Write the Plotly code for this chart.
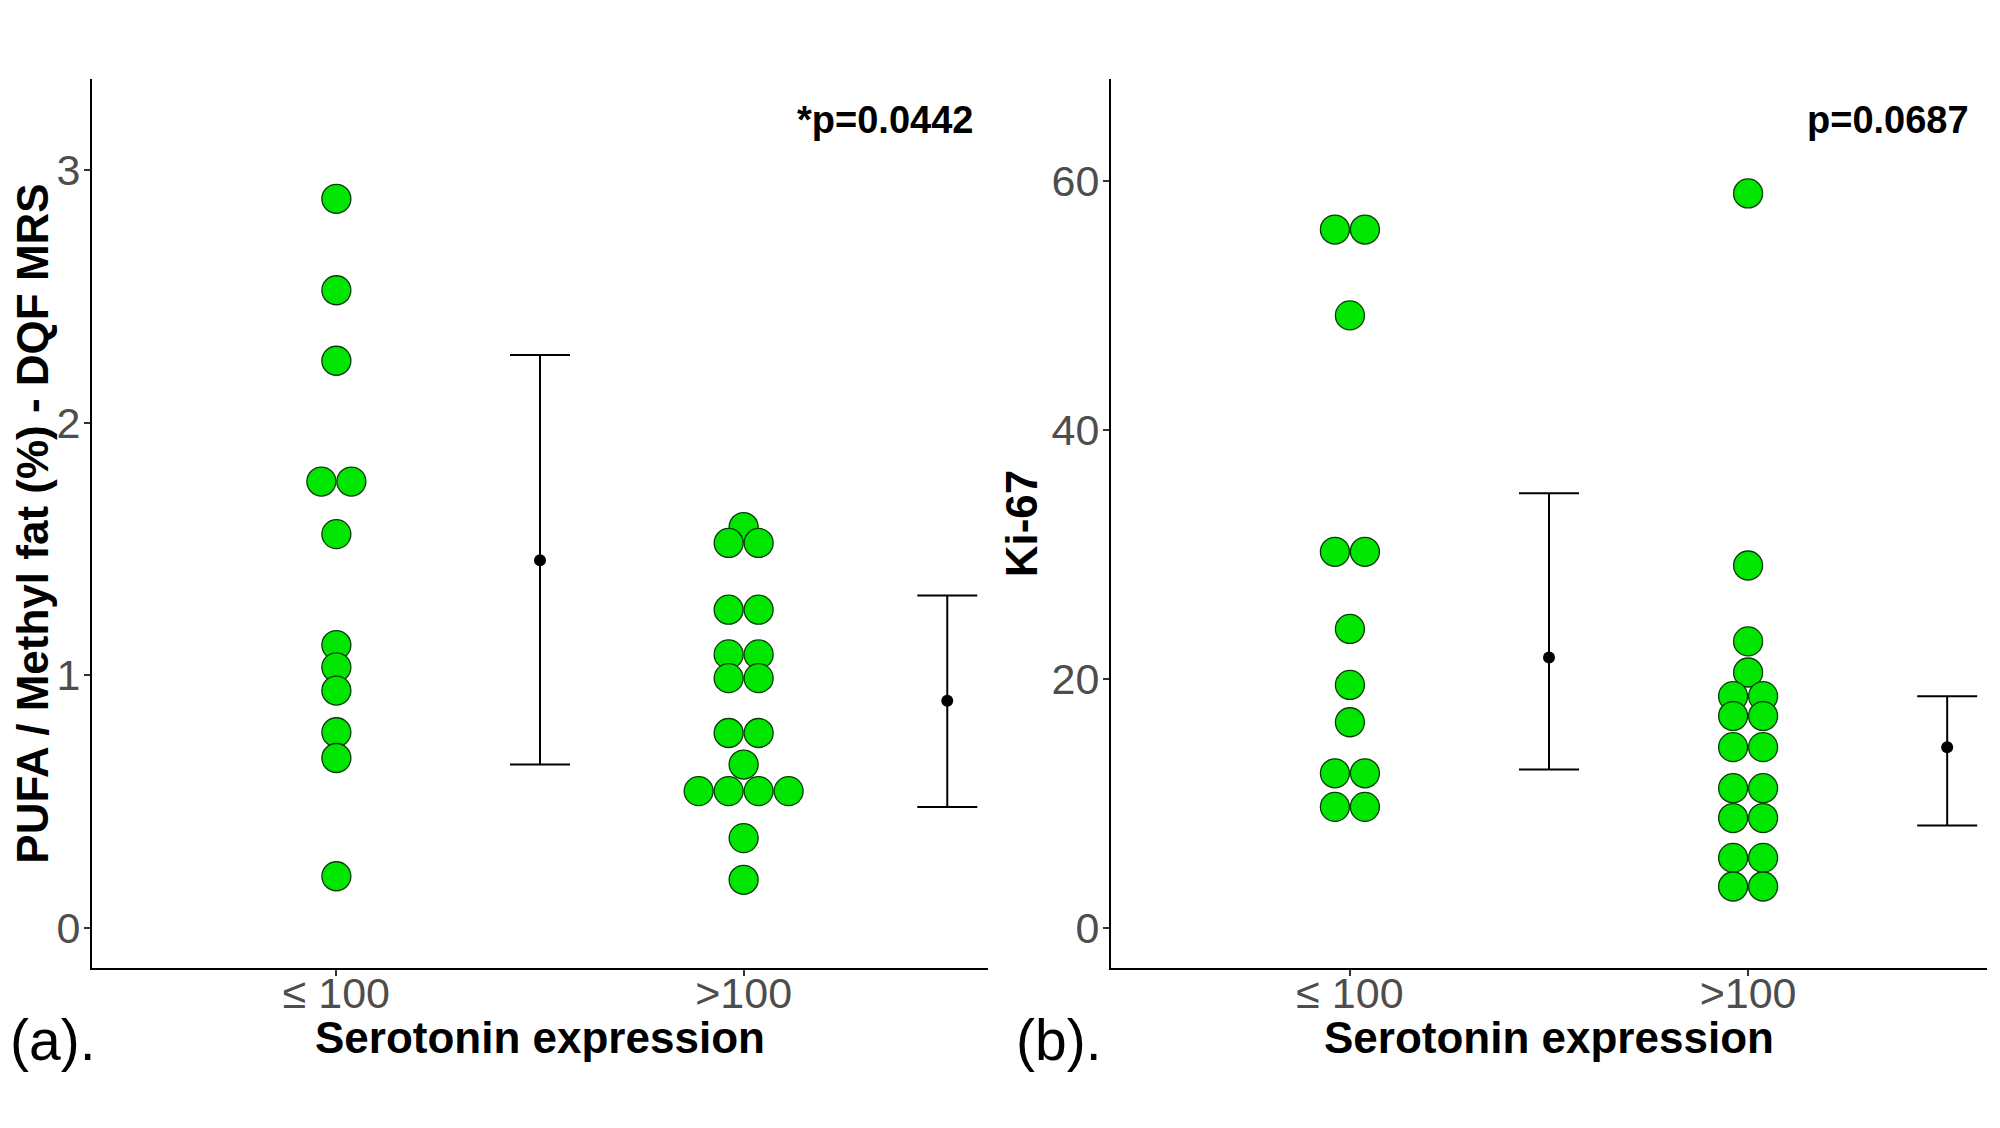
import numpy as np
import plotly.graph_objects as go

# categories
groups = ['≤ 100', '>100']

# (a) PUFA / Methyl fat (%) - DQF MRS
pufa_low = [2.886, 2.524, 2.245, 1.767, 1.767, 1.559, 1.12, 1.032, 0.94, 0.775, 0.673, 0.205]
pufa_high = [1.587, 1.524, 1.524, 1.26, 1.26, 1.083, 1.083, 0.989, 0.989, 0.772, 0.772,
             0.647, 0.542, 0.542, 0.542, 0.542, 0.356, 0.191]
pufa_center = [1.456, 0.90]
pufa_lower = [0.647, 0.479]
pufa_upper = [2.268, 1.316]

# (b) Ki-67
ki67_low = [56.1, 56.1, 49.2, 30.2, 30.2, 24.0, 19.5, 16.5, 12.4, 12.4, 9.7, 9.7]
ki67_high = [59.0, 29.1, 23.0, 20.5, 18.6, 18.6, 17.0, 17.0, 14.5, 14.5, 11.2, 11.2,
             8.8, 8.8, 5.6, 5.6, 3.3, 3.3]
ki67_center = [21.7, 14.5]
ki67_lower = [12.7, 8.2]
ki67_upper = [34.9, 18.6]

p_labels = ['*p=0.0442', 'p=0.0687']
y_titles = ['PUFA / Methyl fat (%) - DQF MRS', 'Ki-67']
panel_tags = ['(a).', '(b).']

W, H = 2000, 1128
OFF = 8  # default body margin of the html page
FW, FH = W - 2 * OFF, H - 2 * OFF
FONT = 'Liberation Sans'
DOT_PX = 30
X_RANGE = [0.4, 2.6]
y_ranges = [[-0.158, 3.36], [-3.25, 68.2]]


def px_x(x):
    return (x - OFF) / FW


def px_y(y):
    return 1 - (y - OFF) / FH


x_doms = [[px_x(92), px_x(988)], [px_x(1111), px_x(1987)]]
y_dom = [px_y(968), px_y(79)]


def dot_offsets(values, step):
    # centred side-by-side stacking of equal values (like geom_dotplot stackdir='center')
    vals = np.round(np.asarray(values, float), 3)
    offs = np.zeros(len(vals))
    for v in np.unique(vals):
        idx = np.where(vals == v)[0]
        offs[idx] = (np.arange(len(idx)) - (len(idx) - 1) / 2) * step
    return offs


fig = go.Figure()
panels = [
    (pufa_low, pufa_high, pufa_center, pufa_lower, pufa_upper),
    (ki67_low, ki67_high, ki67_center, ki67_lower, ki67_upper),
]

for i, (low, high, cen, lo, up) in enumerate(panels):
    xa = 'x' if i == 0 else 'x2'
    ya = 'y' if i == 0 else 'y2'
    px_per_unit = (x_doms[i][1] - x_doms[i][0]) * FW / (X_RANGE[1] - X_RANGE[0])
    step = DOT_PX / px_per_unit
    for g, vals in enumerate([low, high]):
        order = np.argsort(vals)[::-1]
        v = np.asarray(vals)[order]
        offs = dot_offsets(v, step)
        fig.add_trace(go.Scatter(
            x=(g + 1) + offs, y=v, mode='markers', xaxis=xa, yaxis=ya,
            marker=dict(size=DOT_PX - 1, color='#00E600', line=dict(color='#0A3A0A', width=1.3)),
            showlegend=False, hoverinfo='y'))
    cen = np.asarray(cen)
    fig.add_trace(go.Scatter(
        x=[1.5, 2.5], y=cen, mode='markers', xaxis=xa, yaxis=ya,
        marker=dict(size=12, color='black'),
        error_y=dict(type='data', symmetric=False,
                     array=np.asarray(up) - cen, arrayminus=cen - np.asarray(lo),
                     color='black', thickness=2, width=30),
        showlegend=False))

axis_common = dict(showline=True, linecolor='black', linewidth=2, ticks='outside',
                   ticklen=6, tickwidth=2, tickcolor='#333333', showgrid=False, zeroline=False,
                   tickfont=dict(family=FONT, size=43, color='#4D4D4D'))
ytitle_font = dict(family=FONT, size=44, color='black')

fig.update_layout(
    width=FW, height=FH, plot_bgcolor='white', paper_bgcolor='white',
    margin=dict(l=0, r=0, t=0, b=0),
    xaxis=dict(domain=x_doms[0], range=X_RANGE, tickvals=[1, 2], ticktext=groups,
               anchor='y', ticklabelstandoff=-20, **axis_common),
    yaxis=dict(domain=y_dom, range=y_ranges[0], tickvals=[0, 1, 2, 3], anchor='x',
               ticklabelstandoff=-5,
               title=dict(text='<b>' + y_titles[0] + '</b>', font=ytitle_font, standoff=9),
               **axis_common),
    xaxis2=dict(domain=x_doms[1], range=X_RANGE, tickvals=[1, 2], ticktext=groups,
                anchor='y2', ticklabelstandoff=-20, **axis_common),
    yaxis2=dict(domain=y_dom, range=y_ranges[1], tickvals=[0, 20, 40, 60], anchor='x2',
                ticklabelstandoff=-5,
                title=dict(text='<b>' + y_titles[1] + '</b>', font=ytitle_font, standoff=0),
                **axis_common),
)

tag_x = [8, 1014]
p_x = [975, 1971]
for i in range(2):
    xc = (x_doms[i][0] + x_doms[i][1]) / 2
    fig.add_annotation(x=xc, y=px_y(1037), xref='paper', yref='paper', showarrow=False,
                       text='<b>Serotonin expression</b>', xanchor='center', yanchor='middle',
                       font=dict(family=FONT, size=44, color='black'))
    fig.add_annotation(x=px_x(p_x[i]), y=px_y(120), xref='paper', yref='paper', showarrow=False,
                       text='<b>' + p_labels[i] + '</b>', xanchor='right', yanchor='middle',
                       font=dict(family=FONT, size=38, color='black'))
    fig.add_annotation(x=px_x(tag_x[i]), y=px_y(1040), xref='paper', yref='paper', showarrow=False,
                       text=panel_tags[i], xanchor='left', yanchor='middle',
                       font=dict(family=FONT, size=57, color='black'))

fig.write_html('out.html')
